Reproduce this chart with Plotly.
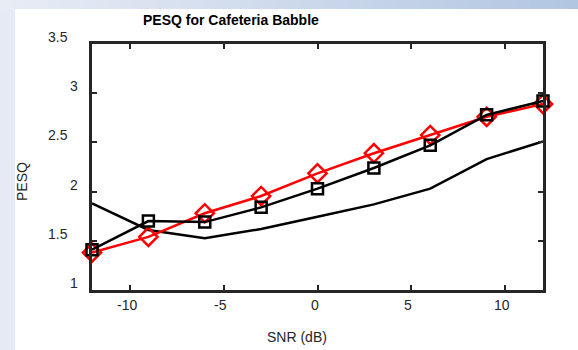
import plotly.graph_objects as go

# ---- data ----
snr = [-12, -9, -6, -3, 0, 3, 6, 9, 12]
pesq_plain = [1.88, 1.61, 1.525, 1.62, 1.745, 1.87, 2.03, 2.33, 2.51]
pesq_square = [1.41, 1.70, 1.69, 1.84, 2.03, 2.24, 2.47, 2.78, 2.92]
pesq_diamond = [1.38, 1.54, 1.78, 1.955, 2.186, 2.39, 2.575, 2.76, 2.89]

x_ticks = [-10, -5, 0, 5, 10]
x_ticklabels = ["-10", "-5", "0", "5", "10"]
y_ticks = [1, 1.5, 2, 2.5, 3, 3.5]
y_ticklabels = ["1", "1.5", "2", "2.5", "3", "3.5"]

title_text = "PESQ for Cafeteria Babble"
x_title = "SNR (dB)"
y_title = "PESQ"

# ---- geometry (pixels) ----
W, H = 578, 350
L, R, T, B = 92, 35, 44, 60
pw, ph = W - L - R, H - T - B


def px_x(p):
    return (p - L) / pw


def px_y(p):
    return (H - B - p) / ph


FONT = "Liberation Sans, Arial, sans-serif"
AXC = "#262626"
FS = 14

fig = go.Figure()
fig.add_trace(go.Scatter(x=snr, y=pesq_plain, mode="lines",
                         line=dict(color="black", width=2.5), showlegend=False))
fig.add_trace(go.Scatter(x=snr, y=pesq_diamond, mode="lines+markers",
                         line=dict(color="#ff0000", width=2.5),
                         marker=dict(symbol="diamond-open", size=14, color="#ff0000",
                                     line=dict(width=2.5, color="#ff0000")),
                         showlegend=False, cliponaxis=False))
fig.add_trace(go.Scatter(x=snr, y=pesq_square, mode="lines+markers",
                         line=dict(color="black", width=2.5),
                         marker=dict(symbol="square-open", size=11, color="black",
                                     line=dict(width=2.5, color="black")),
                         showlegend=False, cliponaxis=False))

shapes = []
# white canvas
shapes.append(dict(type="rect", xref="paper", yref="paper",
                   x0=px_x(15), x1=px_x(W + 2), y0=px_y(9), y1=px_y(H + 2),
                   fillcolor="white", line=dict(width=0), layer="below"))
# top gradient strip
n = 48
c0 = (232, 236, 245)
c1 = (178, 198, 226)
for i in range(n):
    f = i / (n - 1)
    col = "rgb(%d,%d,%d)" % tuple(round(a + (b - a) * f) for a, b in zip(c0, c1))
    shapes.append(dict(type="rect", xref="paper", yref="paper",
                       x0=px_x(W * i / n), x1=px_x(W * (i + 1) / n + 1),
                       y0=px_y(9), y1=px_y(-1),
                       fillcolor=col, line=dict(width=0), layer="below"))

annotations = []
for v, t in zip(x_ticks, x_ticklabels):
    annotations.append(dict(x=v, y=0, xref="x", yref="paper", text=t, showarrow=False,
                            xanchor="center", yanchor="middle", xshift=-3, yshift=-15,
                            font=dict(family=FONT, size=FS, color=AXC)))
for v, t in zip(y_ticks, y_ticklabels):
    annotations.append(dict(x=0, y=v, xref="paper", yref="y", text=t, showarrow=False,
                            xanchor="right", yanchor="middle",
                            xshift=-12 if len(t) == 1 else -22, yshift=7,
                            font=dict(family=FONT, size=FS, color=AXC)))
annotations.append(dict(x=px_x(231), y=px_y(20), xref="paper", yref="paper",
                        text="<b>" + title_text + "</b>", showarrow=False,
                        xanchor="center", yanchor="middle",
                        font=dict(family=FONT, size=FS, color="black")))
annotations.append(dict(x=px_x(297), y=px_y(337), xref="paper", yref="paper",
                        text=x_title, showarrow=False, xanchor="center", yanchor="middle",
                        font=dict(family=FONT, size=FS, color=AXC)))
annotations.append(dict(x=px_x(22), y=px_y(182), xref="paper", yref="paper",
                        text=y_title, showarrow=False, textangle=-90,
                        xanchor="center", yanchor="middle",
                        font=dict(family=FONT, size=FS, color=AXC)))

axis_common = dict(showgrid=False, zeroline=False, showline=True, linecolor=AXC,
                   linewidth=2.5, mirror="ticks", ticks="inside", ticklen=5,
                   tickwidth=2, tickcolor=AXC, showticklabels=False)

fig.update_layout(
    width=W, height=H,
    margin=dict(l=L, r=R, t=T, b=B, pad=0),
    paper_bgcolor="rgb(230,234,244)",
    plot_bgcolor="rgba(0,0,0,0)",
    xaxis=dict(range=[-12, 12], tickvals=x_ticks, **axis_common),
    yaxis=dict(range=[1, 3.5], tickvals=y_ticks, **axis_common),
    shapes=shapes,
    annotations=annotations,
    font=dict(family=FONT),
)

fig.write_html("out.html")
